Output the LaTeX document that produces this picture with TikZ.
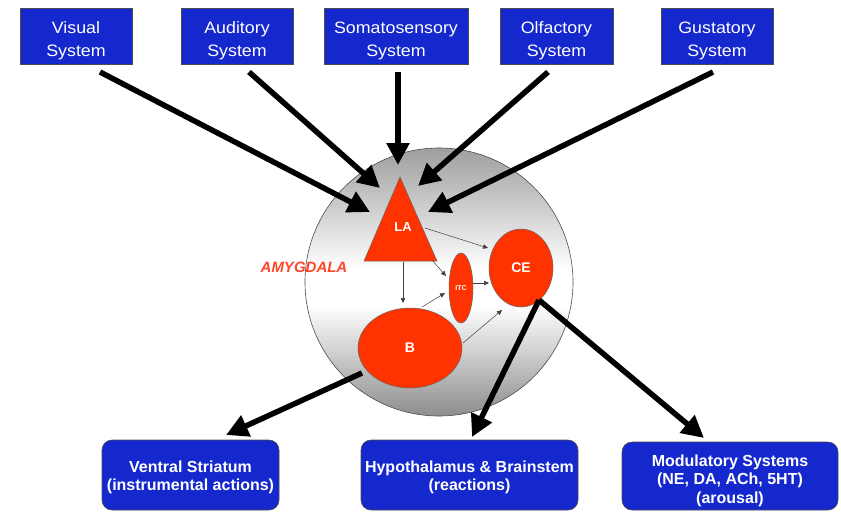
\documentclass[tikz,border=0pt]{standalone}
\usepackage{fontspec}
\setmainfont{Liberation Sans}
\newfontfamily\topfont[FakeStretch=1.08]{Liberation Sans}
\usetikzlibrary{arrows.meta,shapes.geometric}
\definecolor{boxblue}{RGB}{20,40,205}
\definecolor{amyred}{RGB}{255,51,0}
\definecolor{amytext}{RGB}{255,70,40}
\newcommand{\lowtext}[2]{\raisebox{#1}[\height][\depth]{\begin{tabular}{@{}c@{}}#2\end{tabular}}}
\tikzset{
  topbox/.style={draw=black!70, line width=0.6pt, fill=boxblue, text=white, align=center,
    minimum height=56pt, inner sep=0pt, font=\topfont\fontsize{16.5}{23}\selectfont},
  botbox/.style={draw=black!70, line width=0.6pt, fill=boxblue, text=white, align=center,
    rounded corners=10pt, inner sep=0pt, font=\bfseries\fontsize{16}{18.5}\selectfont},
  region/.style={ellipse, draw=black!60, line width=0.5pt, fill=amyred, text=white, inner sep=0pt,
    font=\bfseries\fontsize{14}{16}\selectfont},
  bigarrow/.style={line width=5.5pt, -{Triangle[length=22pt,width=22pt]}},
  thinarrow/.style={line width=0.5pt, draw=black!75, -{Triangle[length=5pt,width=4.5pt]}}
}
\begin{document}
\begin{tikzpicture}[x=1pt,y=-1pt]
\useasboundingbox (0,0) rectangle (841,512);
% amygdala circle (vertical grey-white-grey shading in bands)
\begin{scope}
\clip (439,282) circle[radius=134];
\foreach \i in {0,...,67} {
  \pgfmathsetmacro\yy{148+4*\i}
  \pgfmathsetmacro\tt{(\i+0.5)/68}
  \pgfmathsetmacro\lev{\tt<0.45 ? 62+38*\tt/0.45 : (\tt<0.58 ? 100 : 100-46*(\tt-0.58)/0.42)}
  \fill[white!\lev!black] (300,\yy) rectangle (580,\yy+4.4);
}
\end{scope}
\draw[black!70, line width=0.6pt] (439,282) circle[radius=134];
% top boxes
\node[topbox, minimum width=112pt] (vis) at (76,36) {\lowtext{-4pt}{Visual\\System}};
\node[topbox, minimum width=112pt] (aud) at (237,36) {\lowtext{-4pt}{Auditory\\System}};
\node[topbox, minimum width=144pt] (som) at (396,36) {\lowtext{-4pt}{Somatosensory\\System}};
\node[topbox, minimum width=113pt] (olf) at (556.5,36) {\lowtext{-4pt}{Olfactory\\System}};
\node[topbox, minimum width=112pt] (gus) at (717,36) {\lowtext{-4pt}{Gustatory\\System}};
% bottom boxes
\node[botbox, minimum width=177pt, minimum height=70pt] (vs) at (190.5,475) {\lowtext{-3pt}{Ventral Striatum\\(instrumental actions)}};
\node[botbox, minimum width=217pt, minimum height=70pt] (hyp) at (469.5,475) {\lowtext{-3pt}{Hypothalamus \& Brainstem\\(reactions)}};
\node[botbox, minimum width=216pt, minimum height=68pt] (mod) at (730,476) {\lowtext{-5pt}{Modulatory Systems\\(NE, DA, ACh, 5HT)\\(arousal)}};
% amygdala nuclei
\fill[amyred, draw=black!60, line width=0.5pt] (400,177) -- (437,261) -- (364,261) -- cycle;
\node[text=white, font=\bfseries\fontsize{13}{15}\selectfont] (LA) at (403,227) {LA};
\node[region, minimum width=24pt, minimum height=70pt, font=\bfseries\fontsize{7}{8}\selectfont] (ITC) at (461,288) {ITC};
\node[region, minimum width=64pt, minimum height=78pt] (CE) at (521,268) {CE};
\node[region, minimum width=104pt, minimum height=80pt] (B) at (410,348) {B};
\node[text=amytext, font=\bfseries\itshape\fontsize{15}{17}\selectfont] (amy) at (304,267) {AMYGDALA};
% thin internal arrows
\coordinate (la1) at (425,228); \coordinate (ce1) at (488,248);
\coordinate (la2) at (403,262); \coordinate (b1) at (403,303);
\coordinate (la3) at (432,260); \coordinate (itc1) at (446,276);
\coordinate (b2) at (422,307); \coordinate (itc2) at (445,293);
\coordinate (itc3) at (473,283); \coordinate (ce2) at (489,283);
\coordinate (b3) at (463,343); \coordinate (ce3) at (502,310);
\draw[thinarrow] (la1) -- (ce1);
\draw[thinarrow] (la2) -- (b1);
\draw[thinarrow] (la3) -- (itc1);
\draw[thinarrow] (b2) -- (itc2);
\draw[thinarrow] (itc3) -- (ce2);
\draw[thinarrow] (b3) -- (ce3);
% sensory inputs
\coordinate (visS) at (100,72); \coordinate (visT) at (370,212);
\coordinate (audS) at (249,72); \coordinate (audT) at (380,188);
\coordinate (somS) at (398,72); \coordinate (somT) at (398,165);
\coordinate (olfS) at (548,72); \coordinate (olfT) at (418,186);
\coordinate (gusS) at (713,72); \coordinate (gusT) at (428,212);
\draw[bigarrow] (visS) -- (visT);
\draw[bigarrow] (audS) -- (audT);
\draw[bigarrow] (somS) -- (somT);
\draw[bigarrow] (olfS) -- (olfT);
\draw[bigarrow] (gusS) -- (gusT);
% outputs
\coordinate (bOut) at (362,373); \coordinate (vsT) at (226,435);
\coordinate (ceOut) at (539,300); \coordinate (hypT) at (472,437);
\coordinate (modT) at (704,438);
\draw[bigarrow] (bOut) -- (vsT);
\draw[bigarrow] (ceOut) -- (hypT);
\draw[bigarrow] (ceOut) -- (modT);
\end{tikzpicture}
\end{document}
